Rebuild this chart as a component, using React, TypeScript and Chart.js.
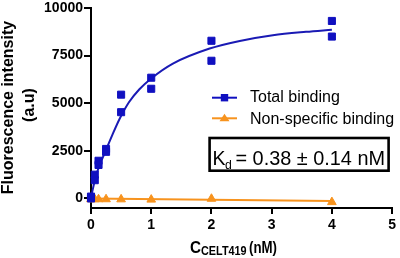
import React, { useEffect, useRef } from "react";
import { Chart, registerables } from "chart.js";

Chart.register(...registerables);

// ---- Data ----
const concentrations = [0, 0.0625, 0.125, 0.25, 0.5, 1, 2, 4];
const totalRep1 = [0, 1250, 1980, 2600, 5450, 6340, 8280, 9320];
const totalRep2 = [100, 960, 1760, 2450, 4530, 5760, 7230, 8500];
const nonSpecific = [-40, -40, -40, -40, -45, -60, -15, -190];

const fitX = [0, 0.083, 0.25, 0.36, 0.47, 0.63, 0.8, 1.0, 1.36, 1.97, 2.47, 3.02, 3.57, 4.0];
const fitY = [50, 1200, 2550, 3380, 4150, 5050, 5720, 6300, 7080, 7870, 8270, 8570, 8750, 8860];

const nsFitX = [0, 4];
const nsFitY = [0, -130];

const xTicks = [0, 1, 2, 3, 4, 5];
const yTicks = [0, 2500, 5000, 7500, 10000];

const legendLabels = ["Total binding", "Non-specific binding"];
const yTitleLines = ["Fluorescence intensity", "(a.u)"];
const xTitleMain = "C";
const xTitleSub = "CELT419";
const xTitleUnit = "(nM)";
const kdMain = "K";
const kdSub = "d";
const kdRest = "= 0.38 ± 0.14 nM";

const BLUE = "#1010c0";
const BLUE_LINE = "#1a1ab4";
const ORANGE = "#f7931e";
const FONT = "'Liberation Sans', Arial, Helvetica, sans-serif";

function fitText(ctx: CanvasRenderingContext2D, text: string, x: number, y: number, font: string, targetW?: number) {
  ctx.font = font;
  const w = ctx.measureText(text).width;
  const s = targetW ? targetW / w : 1;
  ctx.save();
  ctx.translate(x, y);
  ctx.scale(s, 1);
  ctx.textAlign = "left";
  ctx.textBaseline = "alphabetic";
  ctx.fillText(text, 0, 0);
  ctx.restore();
}

const annotationsPlugin = {
  id: "annotations",
  afterDraw(chart: any) {
    const ctx: CanvasRenderingContext2D = chart.ctx;
    ctx.save();
    ctx.fillStyle = "#000";

    // Y title (rotated, two lines)
    ctx.save();
    ctx.translate(13, 107.5);
    ctx.rotate(-Math.PI / 2);
    ctx.textAlign = "center";
    ctx.textBaseline = "alphabetic";
    ctx.font = `bold 16px ${FONT}`;
    ctx.fillText(yTitleLines[0], 0, 0);
    ctx.restore();
    ctx.save();
    ctx.translate(33.5, 105);
    ctx.rotate(-Math.PI / 2);
    ctx.textAlign = "center";
    ctx.textBaseline = "alphabetic";
    ctx.font = `bold 16px ${FONT}`;
    ctx.fillText(yTitleLines[1], 0, 0);
    ctx.restore();

    // X title
    fitText(ctx, xTitleMain, 190, 252.7, `bold 16px ${FONT}`, 11);
    fitText(ctx, xTitleSub, 201, 254.5, `bold 12px ${FONT}`, 45.6);
    fitText(ctx, xTitleUnit, 249, 252.7, `bold 16px ${FONT}`, 28);

    // Legend
    const items = [
      { label: legendLabels[0], color: BLUE, style: "rect", y: 97.7, base: 102.3 },
      { label: legendLabels[1], color: ORANGE, style: "triangle", y: 118.3, base: 124.3 },
    ];
    for (const it of items) {
      ctx.strokeStyle = it.color;
      ctx.lineWidth = 2;
      ctx.beginPath();
      ctx.moveTo(212, it.y);
      ctx.lineTo(237, it.y);
      ctx.stroke();
      ctx.fillStyle = it.color;
      ctx.beginPath();
      if (it.style === "rect") {
        ctx.rect(224.5 - 3.7, it.y - 3.7, 7.4, 7.4);
      } else {
        ctx.moveTo(224.5, it.y - 4.5);
        ctx.lineTo(229.5, it.y + 3);
        ctx.lineTo(219.5, it.y + 3);
        ctx.closePath();
      }
      ctx.fill();
      ctx.fillStyle = "#000";
      fitText(ctx, it.label, 250, it.base, `16px ${FONT}`);
    }

    // Kd box
    ctx.strokeStyle = "#000";
    ctx.lineWidth = 2.6;
    ctx.strokeRect(209.6, 138, 179, 32.7);
    ctx.fillStyle = "#000";
    fitText(ctx, kdMain, 212.5, 165, `21px ${FONT}`, 13);
    fitText(ctx, kdSub, 225, 168.5, `13px ${FONT}`, 6.8);
    fitText(ctx, kdRest, 235.5, 165, `21px ${FONT}`, 149.5);

    ctx.restore();
  },
};

export default function App() {
  const canvasRef = useRef<HTMLCanvasElement | null>(null);

  useEffect(() => {
    const canvas = canvasRef.current;
    if (!canvas) return;

    const totalPoints = [
      ...concentrations.map((x, i) => ({ x, y: totalRep1[i] })),
      ...concentrations.map((x, i) => ({ x, y: totalRep2[i] })),
    ];
    const nsPoints = concentrations.map((x, i) => ({ x, y: nonSpecific[i] }));
    const fitPoints = fitX.map((x, i) => ({ x, y: fitY[i] }));
    const nsFitPoints = nsFitX.map((x, i) => ({ x, y: nsFitY[i] }));

    const chart = new Chart(canvas, {
      type: "scatter",
      data: {
        datasets: [
          {
            label: legendLabels[0],
            data: totalPoints,
            pointStyle: "rect",
            pointRadius: 5,
            pointBorderWidth: 1,
            backgroundColor: BLUE,
            borderColor: BLUE,
            showLine: false,
            clip: false,
          } as any,
          {
            label: legendLabels[1],
            data: nsPoints,
            pointStyle: "triangle",
            pointRadius: 5,
            pointBorderWidth: 1,
            backgroundColor: ORANGE,
            borderColor: ORANGE,
            showLine: false,
            clip: false,
          } as any,
          {
            type: "line",
            label: "fit",
            data: fitPoints,
            borderColor: BLUE_LINE,
            borderWidth: 2,
            pointRadius: 0,
            cubicInterpolationMode: "monotone",
            fill: false,
            clip: false,
          } as any,
          {
            type: "line",
            label: "nsfit",
            data: nsFitPoints,
            borderColor: ORANGE,
            borderWidth: 2,
            pointRadius: 0,
            fill: false,
            clip: false,
          } as any,
        ],
      },
      options: {
        animation: false,
        responsive: false,
        devicePixelRatio: 1,
        layout: { padding: { top: 7, right: 7, left: 0, bottom: 0 } },
        plugins: {
          legend: { display: false },
          tooltip: { enabled: false },
          title: { display: false },
        },
        scales: {
          x: {
            type: "linear",
            min: 0,
            max: 5,
            afterBuildTicks: (s: any) => {
              s.ticks = xTicks.map((v) => ({ value: v }));
            },
            afterFit: (s: any) => {
              s.height = 50;
            },
            ticks: {
              color: "#000",
              font: { family: FONT, size: 14, weight: "bold", lineHeight: 1 },
              padding: 4,
              callback: (v: any) => String(v),
              maxRotation: 0,
            },
            grid: {
              display: true,
              drawOnChartArea: false,
              drawTicks: true,
              tickLength: 6,
              color: "#000",
              lineWidth: 2,
            },
            border: { display: true, color: "#000", width: 2 },
          },
          y: {
            type: "linear",
            min: -500,
            max: 10000,
            afterBuildTicks: (s: any) => {
              s.ticks = yTicks.map((v) => ({ value: v }));
            },
            afterFit: (s: any) => {
              s.width = 91;
            },
            ticks: {
              color: "#000",
              font: { family: FONT, size: 14, weight: "bold", lineHeight: 1 },
              padding: 1,
              callback: (v: any) => String(v),
            },
            grid: {
              display: true,
              drawOnChartArea: false,
              drawTicks: true,
              tickLength: 7,
              color: "#000",
              lineWidth: 2,
            },
            border: { display: true, color: "#000", width: 2 },
          },
        },
      } as any,
      plugins: [annotationsPlugin],
    });

    return () => {
      chart.destroy();
    };
  }, []);

  return (
    <div style={{ position: "absolute", left: 0, top: 0, width: 400, height: 258, background: "#fff" }}>
      <canvas ref={canvasRef} width={400} height={258} style={{ display: "block" }} />
    </div>
  );
}
